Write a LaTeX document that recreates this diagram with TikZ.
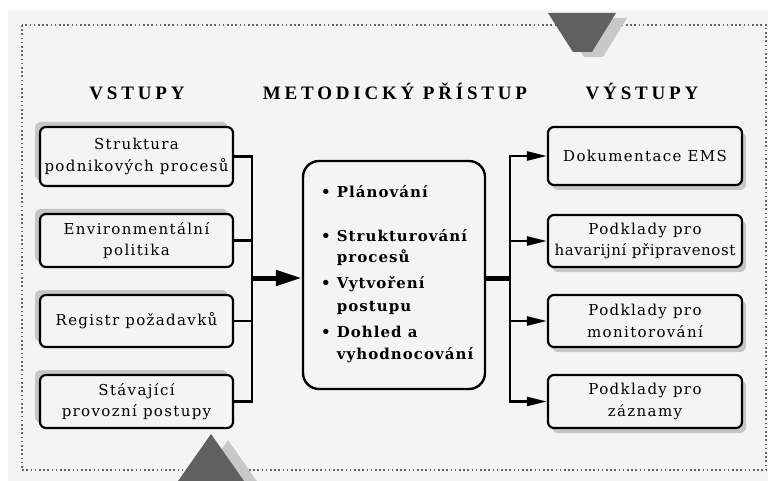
\documentclass[tikz,border=0pt]{standalone}
\usepackage{fontspec}
\setmainfont{DejaVu Serif}
\newfontfamily\hdfont[LetterSpace=20]{Liberation Serif}
\newfontfamily\bxfont[LetterSpace=9]{DejaVu Serif}
\newfontfamily\mdfont[LetterSpace=7]{DejaVu Serif}
\usetikzlibrary{arrows.meta,shadows}
\definecolor{bgc}{HTML}{F4F4F4}
\definecolor{dotc}{HTML}{666666}
\definecolor{shc}{HTML}{C6C6C6}
\definecolor{trid}{HTML}{606060}
\definecolor{tris}{HTML}{C8C8C8}
\tikzset{
  boxbase/.style={draw=black, line width=2.2pt, rounded corners=6pt, fill=bgc,
    align=center, inner sep=1pt, font=\bxfont\fontsize{15}{21.5}\selectfont},
  lbox/.style={boxbase, minimum width=193pt,
    drop shadow={shadow xshift=-5pt, shadow yshift=5pt, fill=shc, opacity=1}},
  rbox/.style={boxbase, minimum width=194pt,
    drop shadow={shadow xshift=4pt, shadow yshift=-5pt, fill=shc, opacity=1}},
  midbox/.style={draw=black, line width=2.4pt, rounded corners=16pt, fill=bgc,
    minimum width=182pt, minimum height=228pt},
  head/.style={font=\hdfont\bfseries\fontsize{19}{21}\selectfont, anchor=base},
  bus/.style={line width=2.4pt, line cap=rect},
  arr/.style={line width=2.4pt, -{Triangle[length=20pt,width=9pt]}},
  bigarr/.style={line width=5pt, -{Triangle[length=26pt,width=15pt]}},
  dotline/.style={draw=dotc, line width=1.6pt, dash pattern=on 1.6pt off 2.6pt},
}
\begin{document}
\begin{tikzpicture}[x=1pt,y=-1pt]
\useasboundingbox (0,0) rectangle (768,481);
\fill[bgc] (8,10) rectangle (768,481);
\draw[dotline] (22,25) rectangle (766,470);

% triangles
\fill[tris] (559,18) -- (627,18) -- (603,57) -- (584,57) -- cycle;
\fill[trid] (548,13) -- (616,13) -- (592,52) -- (573,52) -- cycle;
\fill[tris] (228,440) -- (263.1,490) -- (192.9,490) -- cycle;
\fill[trid] (211,434) -- (250.3,490) -- (171.7,490) -- cycle;

% headers
\node[head] (h1) at (137,100) {VSTUPY};
\node[head] (h2) at (395,100) {METODICKÝ PŘÍSTUP};
\node[head] (h3) at (642,100) {VÝSTUPY};

% left boxes
\node[lbox, minimum height=59pt] (l1) at (136.5,156.5) {Struktura\\podnikových procesů};
\node[lbox, minimum height=53pt] (l2) at (136.5,240.5) {Environmentální\\politika};
\node[lbox, minimum height=52pt] (l3) at (136.5,321) {Registr požadavků};
\node[lbox, minimum height=53pt] (l4) at (136.5,401.5) {Stávající\\provozní postupy};

% right boxes
\node[rbox, minimum height=58pt] (r1) at (645,156) {Dokumentace EMS};
\node[rbox, minimum height=52pt] (r2) at (645,241) {Podklady pro\\{\addfontfeature{LetterSpace=4}havarijní připravenost}};
\node[rbox, minimum height=52pt] (r3) at (645,321) {Podklady pro\\monitorování};
\node[rbox, minimum height=53pt] (r4) at (645,401.5) {Podklady pro\\záznamy};

% middle box
\node[midbox] (mid) at (394,275) {};
\node[anchor=base west, inner sep=0pt, font=\mdfont\bfseries\fontsize{15}{22}\selectfont] (midtext) at (321,197) {%
\begin{tabular}[t]{@{}l@{\hspace{6pt}}l@{}}
\textbullet & Plánování\\
 & \\
\textbullet & Strukturování\\
 & procesů\\[4pt]
\textbullet & Vytvoření\\
 & postupu\\[4pt]
\textbullet & Dohled a\\
 & vyhodnocování
\end{tabular}};

% left bus
\coordinate (lb) at (252,278);
\draw[bus] (l1.east) -- (l1.east -| lb) -- (l4.east -| lb) -- (l4.east);
\draw[bus] (l2.east) -- (l2.east -| lb);
\draw[bus] (l3.east) -- (l3.east -| lb);
\draw[bigarr] (lb) -- (lb -| mid.west);

% right bus
\coordinate (rb) at (510,278);
\draw[line width=5pt] (rb -| mid.east) -- (rb);
\draw[bus] (r1.west -| rb) -- (r4.west -| rb);
\draw[arr] (r1.west -| rb) -- (r1.west);
\draw[arr] (r2.west -| rb) -- (r2.west);
\draw[arr] (r3.west -| rb) -- (r3.west);
\draw[arr] (r4.west -| rb) -- (r4.west);
\end{tikzpicture}
\end{document}
